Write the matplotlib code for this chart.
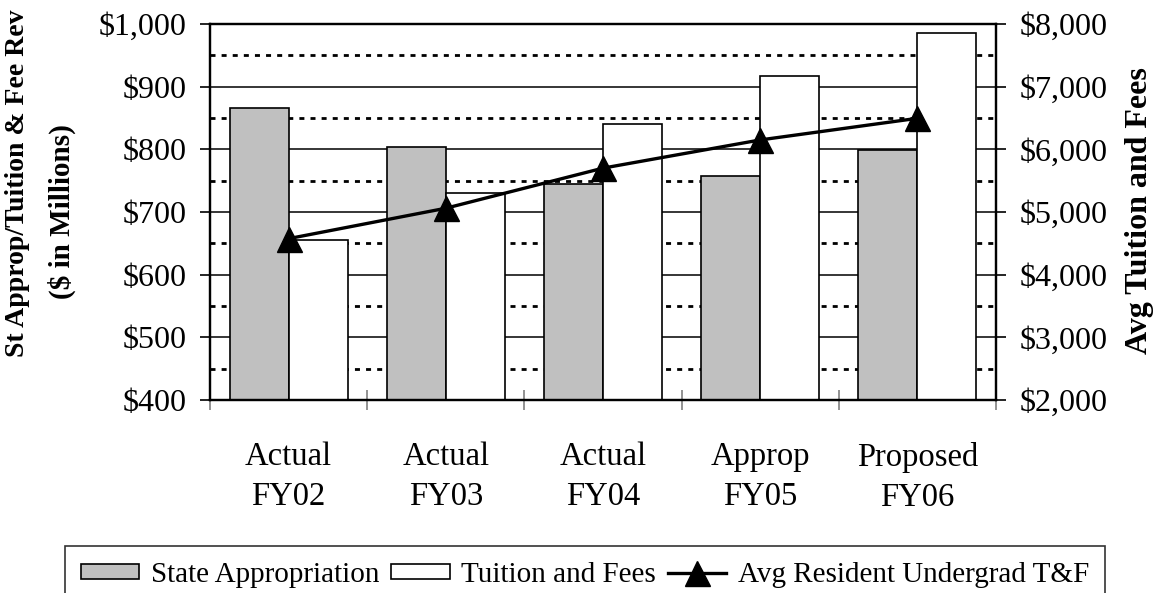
import numpy as np
import matplotlib.pyplot as plt
from matplotlib.ticker import FuncFormatter, MultipleLocator

plt.rcParams['font.family'] = ['Liberation Serif', 'DejaVu Serif']

categories = ["Actual\nFY02", "Actual\nFY03", "Actual\nFY04", "Approp\nFY05", "Proposed\nFY06"]
state_approp = [866, 803, 744, 757, 799]
tuition_fees = [655, 731, 840, 917, 985]
avg_tf = [4575, 5060, 5700, 6150, 6495]

x = np.arange(len(categories))
w = 0.375

fig = plt.figure(figsize=(11.59, 5.93), dpi=100)
ax = fig.add_axes([210 / 1159, 1 - 400 / 593, 786 / 1159, 376 / 593])
ax2 = ax.twinx()

ax.set_xlim(-0.5, 4.5)
ax.set_ylim(400, 1000)
ax2.set_ylim(2000, 8000)

# right axis -> left axis units, so the dotted grid sits behind the bars
def right_to_left(v):
    lo, hi = ax.get_ylim()
    rlo, rhi = ax2.get_ylim()
    return lo + (v - rlo) * (hi - lo) / (rhi - rlo)

for v in range(500, 1000, 100):
    ax.axhline(v, color='black', lw=1.1, zorder=0)
for v in range(2500, 8000, 1000):
    ax.axhline(right_to_left(v), color='black', lw=2, ls=(0, (1.8, 2.2)), zorder=0)

ax.bar(x - w / 2, state_approp, w, color='#c0c0c0', edgecolor='black', lw=1.2,
       label='State Appropriation', zorder=2)
ax.bar(x + w / 2, tuition_fees, w, color='white', edgecolor='black', lw=1.2,
       label='Tuition and Fees', zorder=2)

ax.yaxis.set_major_locator(MultipleLocator(100))
ax2.yaxis.set_major_locator(MultipleLocator(1000))
ax.yaxis.set_major_formatter(FuncFormatter(lambda v, p: f"${v:,.0f}"))
ax2.yaxis.set_major_formatter(FuncFormatter(lambda v, p: f"${v:,.0f}"))

ax.set_xticks(x)
ax.set_xticklabels(categories, fontsize=23.5, linespacing=1.4)
ax.tick_params(axis='x', length=0, pad=30)
ax.set_xticks(np.arange(-0.5, 5, 1), minor=True)
ax.tick_params(axis='x', which='minor', length=14, width=1.2,
               direction='inout', color='#808080')
ax.tick_params(axis='y', labelsize=23, length=7, width=1.2, direction='out', pad=10)
ax2.tick_params(axis='y', labelsize=23, length=7, width=1.2, direction='out', pad=10)

for a in (ax, ax2):
    for s in a.spines.values():
        s.set_linewidth(1.6)

# line on right axis, drawn above bars
ax2.set_zorder(ax.get_zorder() + 1)
ax2.patch.set_visible(False)
line, = ax2.plot(x, avg_tf, color='black', lw=2.4, marker='^', markersize=18,
                 label='Avg Resident Undergrad T&F', zorder=3)

# axis titles
fig.text(18 / 1159, 1 - 183 / 593, "St Approp/Tuition & Fee Rev", rotation=90,
         ha='center', va='center', fontsize=20, fontweight='bold')
fig.text(62 / 1159, 1 - 212 / 593, "($ in Millions)", rotation=90,
         ha='center', va='center', fontsize=21, fontweight='bold')
fig.text(1140 / 1159, 1 - 211 / 593, "Avg Tuition and Fees", rotation=90,
         ha='center', va='center', fontsize=23, fontweight='bold')

h1, l1 = ax.get_legend_handles_labels()
leg = fig.legend(h1 + [line], l1 + [line.get_label()], loc='upper left',
                 bbox_to_anchor=(65 / 1159, 1 - 546 / 593), ncol=3, fontsize=21,
                 frameon=True, fancybox=False, edgecolor='black',
                 handlelength=2.0, handleheight=0.45, handletextpad=0.4,
                 columnspacing=0.4, borderpad=0.55, borderaxespad=0)
leg.get_frame().set_linewidth(1.2)

fig.savefig("out.png", dpi=100)
